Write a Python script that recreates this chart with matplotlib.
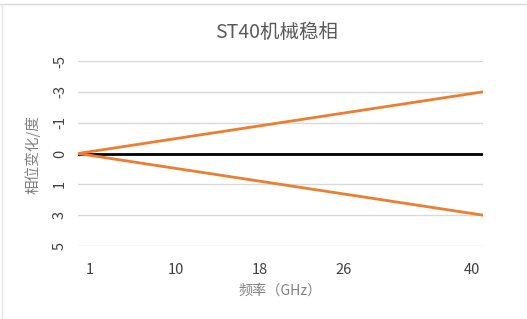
import numpy as np
import matplotlib
matplotlib.use("Agg")
import matplotlib.pyplot as plt
import matplotlib.transforms as mtransforms
from matplotlib.lines import Line2D

plt.rcParams['font.family'] = ['Noto Sans CJK SC', 'DejaVu Sans']

title = "ST40机械稳相"
x_label = "频率（GHz）"
y_label = "相位变化/度"
freq = [1, 40]
upper = [0, -3]
lower = [0, 3]
zero = [0, 0]
x_ticks = [1, 10, 18, 26, 40]
y_ticks = [-5, -3, -1, 0, 1, 3, 5]
y_pos = [-3, -2, -1, 0, 1, 2, 3]

fig = plt.figure(figsize=(5.27, 3.19), dpi=100)
ax = fig.add_axes([78/527, 73/319, 405/527, 185/319])

def fwd(v):
    return np.interp(v, y_ticks, y_pos)
def inv(v):
    return np.interp(v, y_pos, y_ticks)
ax.set_yscale('function', functions=(fwd, inv))

ax.set_xlim(1, 40)
ax.set_ylim(5, -5)

for t in y_ticks:
    if t != 0:
        ax.axhline(t, color='#d9d9d9', lw=1, zorder=1)
ax.plot(freq, zero, color='black', lw=2, zorder=3)
ax.plot(freq, upper, color='#ed7d31', lw=2, zorder=4)
ax.plot(freq, lower, color='#ed7d31', lw=2, zorder=4)

ax.set_xticks(x_ticks)
ax.set_xticklabels([str(v) for v in x_ticks])
ax.set_yticks(y_ticks)
ax.set_yticklabels([str(v) for v in y_ticks], rotation=90, va='center')
ax.yaxis.set_minor_locator(matplotlib.ticker.NullLocator())
ax.tick_params(axis='x', length=0, pad=12, labelsize=10.5, labelcolor='#404040')
ax.tick_params(axis='y', length=0, pad=8, labelsize=10.5, labelcolor='#404040')
for s in ax.spines.values():
    s.set_visible(False)

# Excel-style label placement offsets (pixels)
shifts = [12, 4, 5, 6, -11]
for lab, dx in zip(ax.get_xticklabels(), shifts):
    lab.set_transform(lab.get_transform() + mtransforms.ScaledTranslation(dx/100, 0, fig.dpi_scale_trans))

fig.text(277/527, 1 - 32/319, title, ha='center', va='center', fontsize=14, color='#595959')
fig.text(280/527, 1 - 291/319, x_label, ha='center', va='center', fontsize=10.2, color='#808080')
fig.text(33/527, 1 - 155/319, y_label, ha='center', va='center', fontsize=10.5, color='#808080', rotation=90)

fig.add_artist(Line2D([0, 1], [1 - 4/319, 1 - 4/319], transform=fig.transFigure, color='#d9d9d9', lw=1))
fig.add_artist(Line2D([1.5/527, 1.5/527], [0, 1 - 4/319], transform=fig.transFigure, color='#e6e6e6', lw=1))

fig.savefig("out.png", dpi=100)
